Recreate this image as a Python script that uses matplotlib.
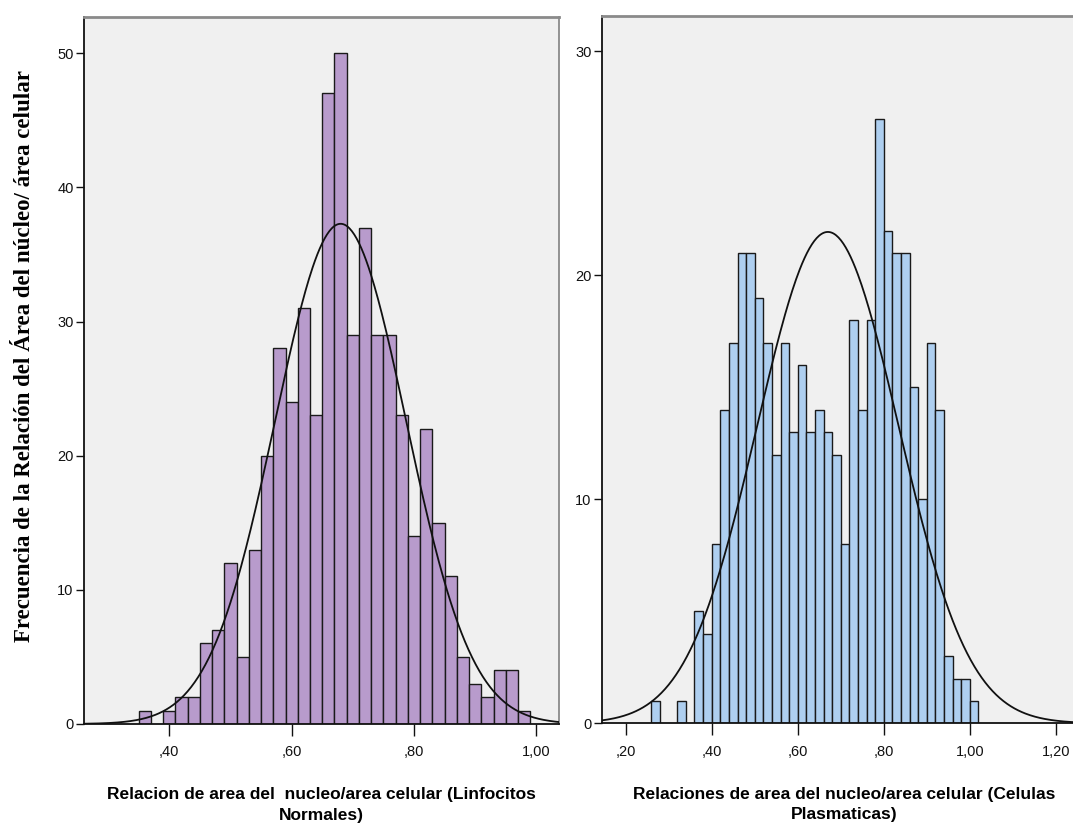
import numpy as np
import matplotlib
matplotlib.use("Agg")
import matplotlib.pyplot as plt

# --- data ---
bin_width = 0.02

# Linfocitos normales
linf_start = 0.35
linf_counts = [1, 0, 1, 2, 2, 6, 7, 12, 5, 13, 20, 28, 24, 31, 23, 47, 50,
               29, 37, 29, 29, 23, 14, 22, 15, 11, 5, 3, 2, 4, 4, 1]
linf_mean = 0.680
linf_sd = 0.107

# Celulas plasmaticas
plas_start = 0.26
plas_counts = [1, 0, 0, 1, 0, 5, 4, 8, 14, 17, 21, 21, 19, 17, 12, 17, 13,
               16, 13, 14, 13, 12, 8, 18, 14, 18, 27, 22, 21, 21, 15, 10,
               17, 14, 3, 2, 2, 1]
plas_mean = 0.670
plas_sd = 0.164

linf_xticks = [0.40, 0.60, 0.80, 1.00]
linf_xticklabels = [",40", ",60", ",80", "1,00"]
linf_yticks = [0, 10, 20, 30, 40, 50]

plas_xticks = [0.20, 0.40, 0.60, 0.80, 1.00, 1.20]
plas_xticklabels = [",20", ",40", ",60", ",80", "1,00", "1,20"]
plas_yticks = [0, 10, 20, 30]

ylabel = "Frecuencia de la Relación del Área del núcleo/ área celular"
linf_xlabel = "Relacion de area del  nucleo/area celular (Linfocitos\nNormales)"
plas_xlabel = "Relaciones de area del nucleo/area celular (Celulas\nPlasmaticas)"

SANS = ["Liberation Sans Narrow", "Liberation Sans", "DejaVu Sans"]
SERIF = ["Liberation Serif", "DejaVu Serif"]


def draw_panel(ax, start, counts, mean, sd, color, xlim, ylim,
               xticks, xticklabels, yticks, xlabel):
    counts = np.asarray(counts)
    lefts = start + bin_width * np.arange(len(counts))
    keep = counts > 0
    ax.bar(lefts[keep], counts[keep], width=bin_width, align="edge",
           color=color, edgecolor="#1a1a1a", linewidth=1.0, zorder=2)

    # normal curve scaled to the histogram, as SPSS draws it
    n = counts.sum()
    xs = np.linspace(xlim[0], xlim[1], 400)
    ys = n * bin_width / (sd * np.sqrt(2 * np.pi)) * np.exp(-0.5 * ((xs - mean) / sd) ** 2)
    ax.plot(xs, ys, color="#111111", linewidth=1.3, zorder=3)

    ax.set_facecolor("#f0f0f0")
    ax.set_xlim(*xlim)
    ax.set_ylim(*ylim)
    ax.set_xticks(xticks)
    ax.set_xticklabels(xticklabels, family=SANS, fontsize=10.5)
    ax.set_yticks(yticks)
    ax.set_yticklabels([str(t) for t in yticks], family=SANS, fontsize=10.5)
    ax.tick_params(axis="x", direction="out", length=8.5, width=1.0, pad=7,
                   colors="#111111")
    ax.tick_params(axis="y", direction="out", length=6, width=1.0, pad=1.5,
                   colors="#111111")
    for side in ("left", "bottom"):
        ax.spines[side].set_color("#111111")
        ax.spines[side].set_linewidth(1.3)
    ax.spines["top"].set_color("#8a8a8a")
    ax.spines["top"].set_linewidth(2.0)
    ax.spines["right"].set_color("#8a8a8a")
    ax.spines["right"].set_linewidth(1.3)
    ax.set_xlabel(xlabel, family=SANS, fontsize=12.5, fontweight="bold",
                  linespacing=1.45, labelpad=20)


fig = plt.figure(figsize=(10.73, 8.33), dpi=100)
fig.patch.set_facecolor("white")

ax1 = fig.add_axes([0.0783, 0.1309, 0.4427, 0.8487])
draw_panel(ax1, linf_start, linf_counts, linf_mean, linf_sd, "#b89bcc",
           (0.2607, 1.0369), (0, 52.7), linf_xticks, linf_xticklabels,
           linf_yticks, linf_xlabel)

ax2 = fig.add_axes([0.5610, 0.1317, 0.4511, 0.8495])
draw_panel(ax2, plas_start, plas_counts, plas_mean, plas_sd, "#aecff0",
           (0.1449, 1.27), (0, 31.6), plas_xticks, plas_xticklabels,
           plas_yticks, plas_xlabel)

fig.text(0.023, 0.572, ylabel, rotation=90, ha="center", va="center",
         family=SERIF, fontsize=16.5, fontweight="bold")

fig.savefig("out.png", dpi=100)
